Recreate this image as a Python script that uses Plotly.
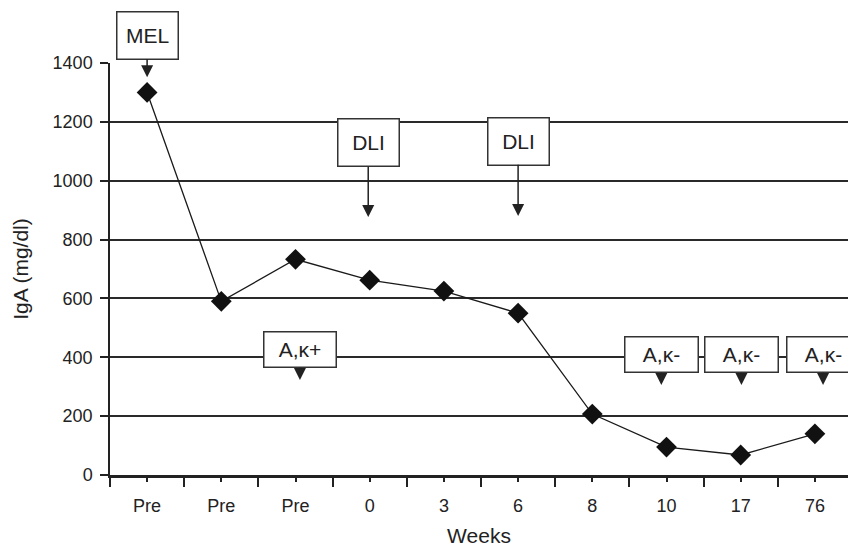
import plotly.graph_objects as go

# ---- data ----
week_labels = ["Pre", "Pre", "Pre", "0", "3", "6", "8", "10", "17", "76"]
iga_values = [1300, 590, 733, 662, 625, 550, 207, 95, 68, 140]
y_ticks = [0, 200, 400, 600, 800, 1000, 1200, 1400]

# annotation boxes: text, category index of arrow tip, y value of tip, pixel offset of box centre, box size
notes = [
    ("MEL", 0.0, 1352, -42, 63, 49),
    ("DLI", 2.98, 877, -74, 63, 49),
    ("DLI", 5.0, 880, -75, 63, 49),
    ("A,κ+", 2.06, 323, -30, 74, 37),
    ("A,κ-", 6.93, 306, -30, 75, 37),
    ("A,κ-", 8.01, 306, -30, 75, 37),
    ("A,κ-", 9.11, 306, -30, 75, 37),
]

xs = list(range(len(week_labels)))

fig = go.Figure()
fig.add_trace(go.Scatter(
    x=xs, y=iga_values, mode="lines+markers",
    line=dict(color="#1a1a1a", width=1.3),
    marker=dict(symbol="diamond", size=16, color="#111111"),
    showlegend=False, cliponaxis=False,
))

font = "Liberation Sans, Arial, Helvetica, sans-serif"
annotations = []
for text, xt, yt, ay, w, h in notes:
    annotations.append(dict(
        x=xt, y=yt, xref="x", yref="y", text=text,
        showarrow=True, ax=0, ay=ay, arrowhead=2, arrowsize=1.6,
        arrowwidth=1.5, arrowcolor="#222222",
        bordercolor="#333333", borderwidth=1.5, borderpad=0,
        bgcolor="white", width=w - 3, height=h - 3,
        font=dict(family=font, size=21, color="#222222"),
    ))

fig.update_layout(
    width=848, height=547,
    margin=dict(l=110, r=0, t=63, b=72),
    paper_bgcolor="white", plot_bgcolor="white",
    font=dict(family=font, size=18, color="#222222"),
    annotations=annotations,
    xaxis=dict(
        range=[-0.5, 9.446], tickmode="array", tickvals=xs, ticktext=week_labels,
        ticks="outside", ticklen=4, tickwidth=2, tickcolor="#222222",
        minor=dict(tickmode="array", tickvals=[i - 0.5 for i in range(len(xs) + 1)],
                   ticks="outside", ticklen=9, tickwidth=2, tickcolor="#222222"),
        showgrid=False, zeroline=False,
        showline=True, linecolor="#222222", linewidth=2.5,
        title=dict(text="Weeks", font=dict(size=21), standoff=14),
        tickfont=dict(size=18), ticklabelstandoff=9, fixedrange=True,
    ),
    yaxis=dict(
        range=[0, 1400], tickmode="array", tickvals=y_ticks,
        ticks="outside", ticklen=8, tickwidth=1.5, tickcolor="#222222",
        showgrid=True, gridcolor="#2a2a2a", gridwidth=1.5,
        zeroline=False, showline=True, linecolor="#222222", linewidth=1.5,
        title=dict(text="IgA (mg/dl)", font=dict(size=21), standoff=18),
        tickfont=dict(size=18), ticklabelstandoff=4, fixedrange=True,
    ),
)

fig.write_html("out.html", config={"displayModeBar": False},
               post_script="document.body.style.margin='0';")
